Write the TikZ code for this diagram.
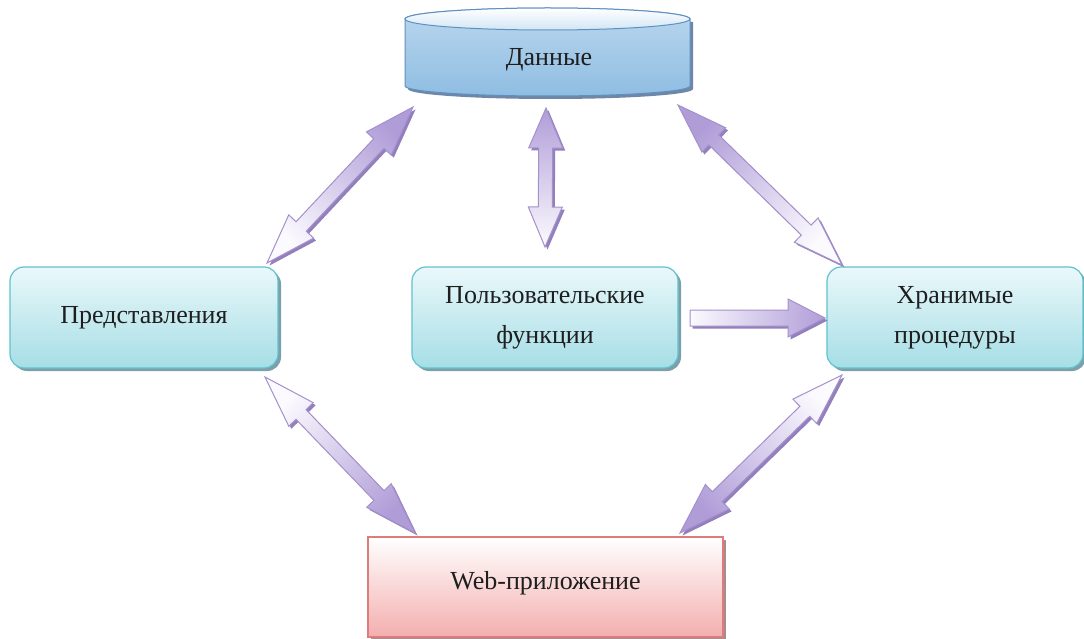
\documentclass[tikz,border=0pt]{standalone}
\usepackage{fontspec}
\setmainfont{Liberation Serif}
\usetikzlibrary{calc,shadows}
\definecolor{boxtop}{HTML}{EAF8FA}
\definecolor{boxbot}{HTML}{A6DEE6}
\definecolor{boxline}{HTML}{5EC3CF}
\definecolor{boxshadow}{HTML}{7E9FA8}
\definecolor{webtop}{HTML}{FFFFFF}
\definecolor{webbot}{HTML}{F4AEAE}
\definecolor{webline}{HTML}{DD7C7C}
\definecolor{webshadow}{HTML}{A88C8C}
\definecolor{cyltop}{HTML}{D2E6F5}
\definecolor{cylbodytop}{HTML}{BAD7EE}
\definecolor{cylbodybot}{HTML}{8FBDE2}
\definecolor{cylline}{HTML}{5F90C2}
\definecolor{cylshadow}{HTML}{6F86A6}
\definecolor{arrdark}{HTML}{B09DD8}
\definecolor{arrlight}{HTML}{FBFAFE}
\definecolor{arrline}{HTML}{A590CC}
\definecolor{arrshadow}{HTML}{9280BC}
\definecolor{txt}{HTML}{1E1E1E}

% double-headed fat arrow: #1 A, #2 B, #3 colour at A, #4 colour at B,
% #5 head length, #6 head half width, #7 shaft half width
\newcommand\dblfat[7]{%
  \coordinate (fs) at ($(#1)!#5!(#2)$);
  \coordinate (fe) at ($(#2)!#5!(#1)$);
  \coordinate (p1) at ($(fs)!#6!90:(#2)$);
  \coordinate (p2) at ($(fs)!#7!90:(#2)$);
  \coordinate (p3) at ($(fe)!#7!-90:(#1)$);
  \coordinate (p4) at ($(fe)!#6!-90:(#1)$);
  \coordinate (p5) at ($(fe)!#6!90:(#1)$);
  \coordinate (p6) at ($(fe)!#7!90:(#1)$);
  \coordinate (p7) at ($(fs)!#7!-90:(#2)$);
  \coordinate (p8) at ($(fs)!#6!-90:(#2)$);
  \pgfmathanglebetweenpoints{\pgfpointanchor{#1}{center}}{\pgfpointanchor{#2}{center}}%
  \pgfmathsetmacro\fatang{\pgfmathresult-90}%
  \fill[arrshadow, transform canvas={shift={(2.5pt,-2.5pt)}}]
    (#1) -- (p1) -- (p2) -- (p3) -- (p4) -- (#2) -- (p5) -- (p6) -- (p7) -- (p8) -- cycle;
  \draw[arrowedge, top color=#4, bottom color=#3, shading angle=\fatang]
    (#1) -- (p1) -- (p2) -- (p3) -- (p4) -- (#2) -- (p5) -- (p6) -- (p7) -- (p8) -- cycle;
}
% single-headed fat arrow, same arguments
\newcommand\sglfat[7]{%
  \coordinate (fe) at ($(#2)!#5!(#1)$);
  \coordinate (q1) at ($(#1)!#7!90:(#2)$);
  \coordinate (q2) at ($(fe)!#7!-90:(#1)$);
  \coordinate (q3) at ($(fe)!#6!-90:(#1)$);
  \coordinate (q4) at ($(fe)!#6!90:(#1)$);
  \coordinate (q5) at ($(fe)!#7!90:(#1)$);
  \coordinate (q6) at ($(#1)!#7!-90:(#2)$);
  \pgfmathanglebetweenpoints{\pgfpointanchor{#1}{center}}{\pgfpointanchor{#2}{center}}%
  \pgfmathsetmacro\fatang{\pgfmathresult-90}%
  \fill[arrshadow, transform canvas={shift={(2.5pt,-2.5pt)}}]
    (q1) -- (q2) -- (q3) -- (#2) -- (q4) -- (q5) -- (q6) -- cycle;
  \draw[arrowedge, top color=#4, bottom color=#3, shading angle=\fatang]
    (q1) -- (q2) -- (q3) -- (#2) -- (q4) -- (q5) -- (q6) -- cycle;
}

\begin{document}
\begin{tikzpicture}[x=1pt,y=-1pt,
  lbl/.style={font=\fontsize{26}{40}\selectfont, text=txt, align=center},
  box/.style={lbl, rounded corners=14pt, draw=boxline, line width=1.2pt,
    top color=boxtop, bottom color=boxbot, minimum height=101pt,
    drop shadow={shadow xshift=3pt, shadow yshift=-3pt, fill=boxshadow, opacity=1}},
  webbox/.style={lbl, draw=webline, line width=1.2pt, top color=webtop, bottom color=webbot,
    minimum width=355pt, minimum height=100pt, text depth=14pt,
    drop shadow={shadow xshift=3pt, shadow yshift=-3pt, fill=webshadow, opacity=1}},
  arrowedge/.style={draw=arrline, line width=1pt, line join=miter}
]
\useasboundingbox[fill=white] (0,0) rectangle (1084,639);

% cylinder "Данные"
\fill[cylshadow, transform canvas={shift={(3pt,-3pt)}}]
  (405,19) -- (405,86) arc[start angle=180, end angle=360, x radius=142.5pt, y radius=10pt] -- (690,19) -- cycle;
\draw[cylline, line width=1pt, top color=cylbodytop, bottom color=cylbodybot]
  (405,19) -- (405,86) arc[start angle=180, end angle=360, x radius=142.5pt, y radius=10pt]
  -- (690,19) arc[start angle=0, end angle=180, x radius=142.5pt, y radius=11pt] -- cycle;
\draw[cylline, line width=1pt, top color=white, bottom color=cyltop]
  (547.5,19) ellipse[x radius=142.5pt, y radius=11pt];
\node[lbl] (data) at (549,60) {Данные};

% boxes
\node[box, minimum width=268pt] (views) at (144,317.5) {Представления};
\node[box, minimum width=266pt] (funcs) at (545,317.5) {Пользовательские\\функции};
\node[box, minimum width=256pt] (procs) at (955,317.5) {Хранимые\\процедуры};
\node[webbox] (web) at (545.5,587) {Web-приложение};

% arrow ends
\coordinate (a1v) at (267,263);  \coordinate (a1d) at (413,107);
\coordinate (a2d) at (546,108);  \coordinate (a2f) at (545,247);
\coordinate (a3d) at (678,105);  \coordinate (a3p) at (842,265);
\coordinate (a4v) at (265,377);  \coordinate (a4w) at (415,533);
\coordinate (a5p) at (842,375);  \coordinate (a5w) at (680,533);
\coordinate (a6f) at (690,318);  \coordinate (a6p) at (825,318);

\dblfat{a1v}{a1d}{arrlight}{arrdark}{50pt}{17pt}{7pt}
\dblfat{a2d}{a2f}{arrdark}{arrlight}{40pt}{17pt}{7pt}
\dblfat{a3d}{a3p}{arrdark}{arrlight}{50pt}{17pt}{7pt}
\dblfat{a4v}{a4w}{arrlight}{arrdark}{52pt}{17pt}{7pt}
\dblfat{a5p}{a5w}{arrlight}{arrdark}{52pt}{17pt}{7pt}
\sglfat{a6f}{a6p}{arrlight}{arrdark}{37pt}{19pt}{8pt}
\end{tikzpicture}
\end{document}
